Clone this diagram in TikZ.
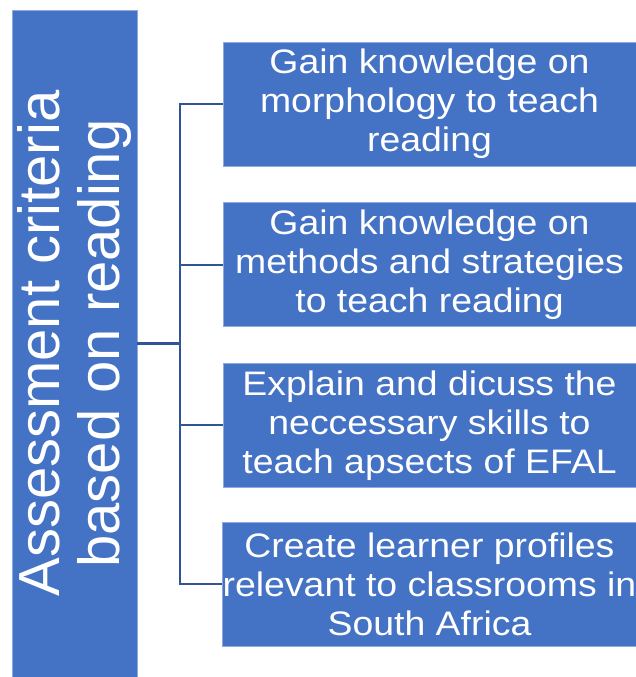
\documentclass[tikz,border=0pt]{standalone}
\usepackage{fontspec}
\setmainfont{Liberation Sans}
\newfontfamily\boxfont[FakeStretch=1.1]{Liberation Sans}
\usepackage{tikz}
\usepackage{xcolor}
\usetikzlibrary{positioning, calc}

\definecolor{boxblue}{RGB}{68,114,196}
\definecolor{edgeblue}{RGB}{143,170,220}
\definecolor{lineblue}{RGB}{47,85,151}

\begin{document}
\begin{tikzpicture}[x=1pt, y=1pt,
    mainbox/.style={draw=edgeblue, line width=0.7pt, fill=boxblue, text=white, rotate=90,
        minimum width=667pt, minimum height=125pt, inner sep=0pt, align=center,
        font=\fontsize{58}{60}\selectfont},
    aimbox/.style={draw=edgeblue, line width=0.7pt, fill=boxblue, text=white,
        minimum width=413pt, minimum height=124pt, inner sep=0pt, align=center,
        font=\boxfont\fontsize{34}{39}\selectfont},
    conn/.style={draw=lineblue, line width=2.1pt}]
    \useasboundingbox (0,0) rectangle (636,677);
    % Nodes
    \node[mainbox] (criteria) at (74.5,333.5) {Assessment criteria\\based on reading};
    \node[aimbox] (morph) at (429.5,573) {Gain knowledge on\\morphology to teach\\reading};
    \node[aimbox, below=36pt of morph] (methods) {Gain knowledge on\\methods and strategies\\to teach reading};
    \node[aimbox, below=36pt of methods] (skills) {Explain and dicuss the\\neccessary skills to\\teach apsects of EFAL};
    \node[aimbox, below=34pt of skills] (profiles) {Create learner profiles\\relevant to classrooms in\\South Africa};
    \coordinate (hub) at (180,333.5);

    % Lines
    \draw[conn] (criteria.south) -- (hub);
    \foreach \aim in {morph, methods, skills, profiles}
        \draw[conn] (hub) |- (\aim.west);
\end{tikzpicture}
\end{document}
